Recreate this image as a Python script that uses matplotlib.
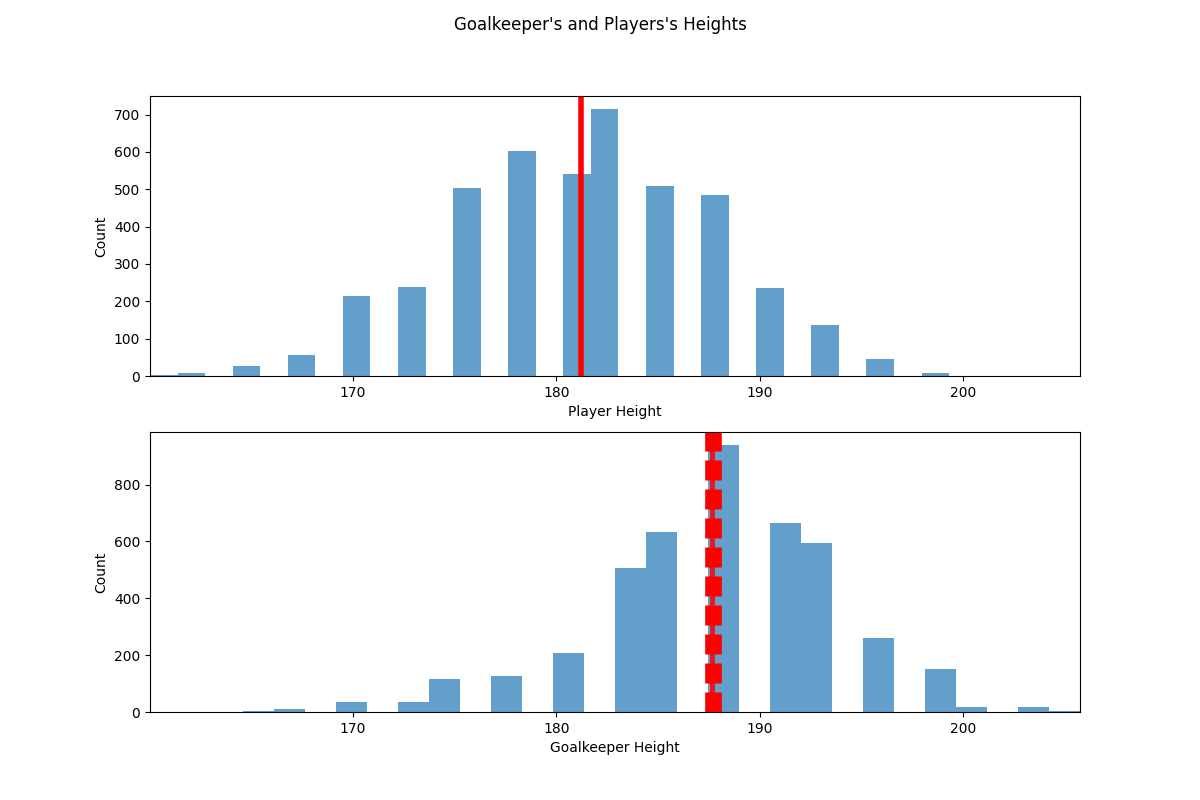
import numpy as np
import matplotlib
matplotlib.use("Agg")
import matplotlib.pyplot as plt

# Histogram ranges (cm) and counts per bin (30 bins each)
player_range = (160.02, 200.66)
player_counts = [3, 8, 0, 27, 0, 56, 0, 214, 0, 238,
                 0, 503, 0, 602, 0, 540, 714, 0, 508, 0,
                 484, 0, 235, 0, 136, 0, 46, 0, 8, 1]

gk_range = (160.02, 205.74)
gk_counts = [1, 0, 0, 3, 10, 0, 35, 0, 35, 116,
             0, 126, 0, 207, 0, 506, 632, 0, 938, 0,
             664, 594, 0, 260, 0, 151, 18, 0, 18, 3]

player_mean = 181.19
gk_mean = 187.65

x_limits = (160.02, 205.74)


def draw_hist(ax, rng, counts):
    edges = np.linspace(rng[0], rng[1], len(counts) + 1)
    centers = (edges[:-1] + edges[1:]) / 2
    ax.hist(centers, bins=edges, weights=counts, alpha=0.7, color="#1f77b4")


fig, (ax1, ax2) = plt.subplots(2, 1, figsize=(12, 8), dpi=100)
fig.suptitle("Goalkeeper's and Players's Heights")

draw_hist(ax1, player_range, player_counts)
ax1.axvline(player_mean, color="red", linewidth=4)
ax1.set_xlim(*x_limits)
ax1.set_xlabel("Player Height")
ax1.set_ylabel("Count")

draw_hist(ax2, gk_range, gk_counts)
ax2.axvline(gk_mean + 0.05, color="red", linewidth=12,
            linestyle=(0, (1.2, 0.54)))
ax2.axvline(gk_mean, color="red", linewidth=3.5, alpha=0.85)
ax2.set_xlim(*x_limits)
ax2.set_xlabel("Goalkeeper Height")
ax2.set_ylabel("Count")

fig.savefig("out.png", dpi=100)
